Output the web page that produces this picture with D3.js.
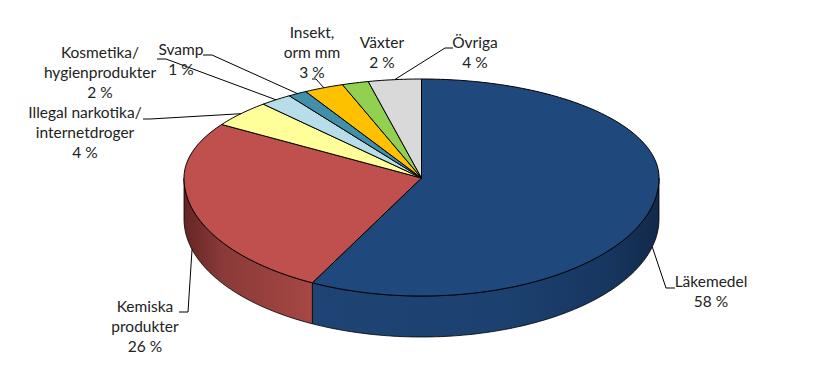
<!DOCTYPE html>
<html>
<head>
    <meta charset="utf-8">
    <title>Pie Chart</title>
    <script type="text/javascript" src="https://cdn.jsdelivr.net/npm/d3@7"></script>
    <style>
        body { margin: 0; background: #fff; }
        text { font-family: Lato, "Open Sans", sans-serif; font-size: 15.5px; fill: #222; text-anchor: middle; }
    </style>
</head>

<body>

<script type="text/javascript">

    //values, printed labels are these rounded
    var categories = ["Läkemedel", "Kemiska produkter", "Illegal narkotika/ internetdroger",
        "Kosmetika/ hygienprodukter", "Svamp", "Insekt, orm mm", "Växter", "Övriga"];
    var shares = [57.6, 26.49, 4.31, 2.2, 1.3, 2.7, 1.8, 3.6];
    var sliceColors = ["#1f497d", "#c0504d", "#ffff99", "#b7dee8", "#418fa8", "#ffc000", "#92d050", "#d9d9d9"];

    //label lines for each category, in the same order
    var labelLines = [["Läkemedel"], ["Kemiska", "produkter"], ["Illegal narkotika/", "internetdroger"],
        ["Kosmetika/", "hygienprodukter"], ["Svamp"], ["Insekt,", "orm mm"], ["Växter"], ["Övriga"]];

    var width = 824, height = 385, depth = 41, lineHeight = 20;

    //x = label centre, y = first baseline, elbow = where the leader starts and bends
    var labelLayout = [
        {x: 711, y: 287, elbow: [[675, 288], [666, 288]]},
        {x: 145, y: 312, elbow: [[179, 312], [188, 312]]},
        {x: 85, y: 118, elbow: [[143, 119], [150, 119]]},
        {x: 100, y: 58, elbow: [[157, 59], [166, 59]]},
        {x: 181, y: 55, elbow: [[203, 55], [212, 55]]},
        {x: 312, y: 38, elbow: [[312, 79], [316, 79]]},
        {x: 382, y: 48, elbow: null},
        {x: 475, y: 48, elbow: [[453, 48], [445, 48]]}
    ];

    //the near half of the disc is drawn taller than the far half, like the 3d perspective
    var xScale = d3.scaleLinear().domain([-1, 1]).range([184, 659]);
    var yScale = d3.scaleLinear().domain([-1, 0, 1]).range([296, 178, 79]);

    function rimPoint(angle, drop)
    {
        return [xScale(Math.sin(angle)), yScale(Math.cos(angle)) + (drop || 0)];
    }

    function rimPoints(a0, a1, drop)
    {
        var n = Math.max(2, Math.ceil((a1 - a0) / 0.02));
        return d3.range(n + 1).map(function (i)
        {
            return rimPoint(a0 + (a1 - a0) * i / n, drop);
        });
    }

    var line = d3.line();

    var slices = d3.pie().sort(null).value(function (d) { return d; })(shares);

    var svg = d3.select("body").append("svg")
            .attr("width", width)
            .attr("height", height);

    //side wall shading, one gradient for each slice that has a visible wall
    var defs = svg.append("defs");
    var wallStops = [
        [["#1d4474", 0], ["#1c4170", 0.55], ["#173660", 0.85], ["#12294a", 1]],
        [["#652524", 0], ["#8a3a38", 0.3], ["#a64744", 1]]
    ];
    var wallRange = [[312, 659], [184, 312]];

    wallStops.forEach(function (stops, i)
    {
        var grad = defs.append("linearGradient")
                .attr("id", "wall-" + i)
                .attr("gradientUnits", "userSpaceOnUse")
                .attr("x1", wallRange[i][0]).attr("x2", wallRange[i][1])
                .attr("y1", 0).attr("y2", 0);
        stops.forEach(function (s)
        {
            grad.append("stop").attr("offset", s[1]).attr("stop-color", s[0]);
        });
    });

    //walls only for the part of each slice that faces the viewer
    var walls = svg.append("g").attr("class", "walls");
    slices.forEach(function (d, i)
    {
        var a0 = Math.max(d.startAngle, Math.PI / 2),
            a1 = Math.min(d.endAngle, Math.PI * 1.5);
        if (a1 <= a0) return;

        var pts = rimPoints(a0, a1, 0).concat(rimPoints(a0, a1, depth).reverse());
        walls.append("path")
                .attr("d", line(pts) + "Z")
                .attr("fill", "url(#wall-" + i + ")")
                .attr("stroke", "#000")
                .attr("stroke-width", 0.8);
    });

    //top of the disc
    var centre = [xScale(0), yScale(0)];
    svg.append("g").attr("class", "slices")
            .selectAll("path")
            .data(slices)
            .enter()
            .append("path")
            .attr("d", function (d)
            {
                return line([centre].concat(rimPoints(d.startAngle, d.endAngle, 0))) + "Z";
            })
            .attr("fill", function (d, i) { return sliceColors[i]; })
            .attr("stroke", "#000")
            .attr("stroke-width", 1);

    //leaders end on the rim at the slice's middle angle
    svg.append("g").attr("class", "leaders")
            .selectAll("path")
            .data(slices.filter(function (d, i) { return labelLayout[i].elbow; }))
            .enter()
            .append("path")
            .attr("d", function (d)
            {
                var mid = (d.startAngle + d.endAngle) / 2;
                var front = Math.cos(mid) < 0;
                return line(labelLayout[d.index].elbow.concat([rimPoint(mid, front ? depth : 0)]));
            })
            .attr("fill", "none")
            .attr("stroke", "#000")
            .attr("stroke-width", 1);

    //labels
    var labels = svg.append("g").attr("class", "labels");
    categories.forEach(function (name, i)
    {
        var lines = labelLines[i].concat([d3.format(".0f")(shares[i]) + " %"]);
        var text = labels.append("text").attr("data-category", name);
        lines.forEach(function (t, j)
        {
            text.append("tspan")
                    .attr("x", labelLayout[i].x)
                    .attr("y", labelLayout[i].y + j * lineHeight)
                    .text(t);
        });
    });

</script>

</body>

</html>
